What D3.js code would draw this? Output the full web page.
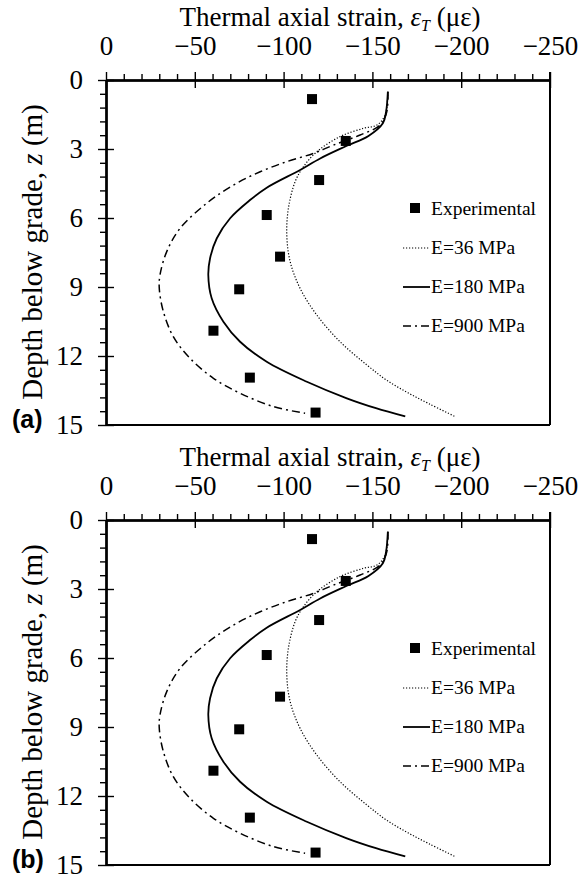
<!DOCTYPE html>
<html>
<head>
<meta charset="utf-8">
<script src="https://cdn.jsdelivr.net/npm/d3@7"></script>
<style>
  body { margin: 0; background: #fff; }
</style>
</head>
<body>
<div id="chart"></div>
<script>
var width = 583,
    height = 876;

// experimental points: [strain (µε), depth (m)]
var expStrain = [-116, -135, -120, -90.5, -98, -75, -60.5, -81, -118];
var expDepth  = [0.83, 2.65, 4.35, 5.87, 7.68, 9.1, 10.9, 12.94, 14.46];

// E = 36 MPa
var e36Strain = [-158.7, -157.2, -152.5, -145, -131.8, -118.7, -111.2, -106.5, -102.7, -101.8, -103.7, -109.3, -118.7, -131.8, -146.9, -158, -170, -182, -196.5];
var e36Depth  = [0.51, 1.52, 1.96, 2.1, 2.46, 3.12, 3.77, 4.42, 5.58, 6.74, 7.9, 9.06, 10.22, 11.38, 12.39, 13.05, 13.6, 14.08, 14.63];

// E = 180 MPa
var e180Strain = [-158.7, -157.7, -155.9, -147.8, -135.6, -120.6, -109.3, -90.5, -81.1, -69.9, -62.4, -58.6, -57.6, -59.5, -66.1, -75.5, -90.5, -113.1, -135.6, -152, -168.5];
var e180Depth  = [0.51, 1.38, 1.88, 2.43, 2.86, 3.41, 3.91, 4.68, 5.22, 6.01, 6.88, 7.75, 8.48, 9.49, 10.51, 11.38, 12.25, 13.12, 13.84, 14.27, 14.63];

// E = 900 MPa
var e900Strain = [-158.7, -158.1, -154.4, -143.1, -128.1, -116.8, -101.8, -86.8, -71.7, -56.7, -41.7, -34.2, -30.4, -30.0, -32.3, -37.9, -47.3, -60.5, -75.5, -94.3, -112.1];
var e900Depth  = [0.51, 1.38, 1.96, 2.39, 2.83, 3.19, 3.55, 3.99, 4.57, 5.36, 6.45, 7.46, 8.48, 9.06, 10.07, 11.16, 12.1, 12.97, 13.62, 14.2, 14.49];

var xTicks = [0, -50, -100, -150, -200, -250];
var yTicks = [0, 3, 6, 9, 12, 15];
var legendLabels = ["Experimental", "E=36 MPa", "E=180 MPa", "E=900 MPa"];
var panelLabels = ["(a)", "(b)"];

var serif = "'Liberation Serif', 'Times New Roman', serif";

var zip = function(a, b){
  return a.map(function(d, i){ return [d, b[i]]; });
};

var series = [
  {data: zip(e36Strain, e36Depth), dash: "1.2,1.8", w: 1.2},
  {data: zip(e180Strain, e180Depth), dash: null, w: 1.8},
  {data: zip(e900Strain, e900Depth), dash: "8,4,2,4", w: 1.5}
];

var svg = d3.select("#chart").append("svg")
    .attr("width", width)
    .attr("height", height);

var x = d3.scaleLinear().domain([0, -250]).range([106, 550]);

var minorX = d3.range(0, -251, -10).filter(function(d){ return d % 50 != 0; });
var minorY = d3.range(0, 15.01, 0.6).filter(function(d){ return Math.abs(d / 3 - Math.round(d / 3)) > 0.01; });

var drawPanel = function(top, label){
  var y = d3.scaleLinear().domain([0, 15]).range([top, top + 345]);
  var g = svg.append("g");

  // frame right and bottom
  g.append("line").attr("x1", 550).attr("x2", 550).attr("y1", top - 8).attr("y2", top + 345)
      .attr("stroke", "#000").attr("stroke-width", 2);
  g.append("line").attr("x1", 106).attr("x2", 550).attr("y1", top + 345).attr("y2", top + 345)
      .attr("stroke", "#000").attr("stroke-width", 2);

  // top x axis
  g.append("g").attr("transform", "translate(0," + top + ")")
      .call(d3.axisTop(x).tickValues(xTicks).tickSizeInner(8).tickSizeOuter(0).tickPadding(17));
  g.append("g").attr("transform", "translate(0," + top + ")")
      .call(d3.axisTop(x).tickValues(xTicks).tickSizeInner(-8).tickSizeOuter(0).tickFormat(""));
  g.append("g").attr("transform", "translate(0," + top + ")")
      .call(d3.axisTop(x).tickValues(minorX).tickSizeInner(6).tickSizeOuter(0).tickFormat(""));

  // left y axis
  g.append("g").attr("class", "yax").attr("transform", "translate(106,0)")
      .call(d3.axisLeft(y).tickValues(yTicks).tickSizeInner(8).tickSizeOuter(0).tickPadding(15));
  g.append("g").attr("transform", "translate(106,0)")
      .call(d3.axisLeft(y).tickValues(yTicks).tickSizeInner(-8).tickSizeOuter(0).tickFormat(""));
  g.append("g").attr("transform", "translate(106,0)")
      .call(d3.axisLeft(y).tickValues(minorY).tickSizeInner(6).tickSizeOuter(0).tickFormat(""));

  g.selectAll(".domain").attr("stroke", "#000").attr("stroke-width", 2);
  g.selectAll(".tick line").attr("stroke", "#000").attr("stroke-width", 1.4);
  g.selectAll(".tick text").style("font-family", serif).style("font-size", "27px").attr("fill", "#000");
  g.selectAll(".yax .tick text").attr("dy", "0.3em");

  // x title
  var t = g.append("text").attr("x", 330).attr("y", top - 54)
      .attr("text-anchor", "middle").style("font-family", serif).style("font-size", "27px");
  t.append("tspan").text("Thermal axial strain, ");
  t.append("tspan").attr("font-style", "italic").text("ε");
  t.append("tspan").attr("font-style", "italic").style("font-size", "16px").attr("dy", 5).text("T");
  t.append("tspan").attr("dy", -5).text(" (με)");

  // y title
  var yt = g.append("text")
      .attr("transform", "translate(42," + (top + 172) + ") rotate(-90)")
      .attr("text-anchor", "middle").style("font-family", serif).style("font-size", "29px");
  yt.append("tspan").text("Depth below grade, ");
  yt.append("tspan").attr("font-style", "italic").text("z");
  yt.append("tspan").text(" (m)");

  // panel label
  g.append("text").attr("x", 12).attr("y", top + 348)
      .style("font-family", "'Liberation Sans', Arial, sans-serif").style("font-weight", "bold")
      .style("font-size", "25px").text(label);

  // curves
  var line = d3.line()
      .x(function(d){ return x(d[0]); })
      .y(function(d){ return y(d[1]); })
      .curve(d3.curveCatmullRom.alpha(0.5));

  g.selectAll(".curve").data(series).enter().append("path")
      .attr("class", "curve")
      .attr("d", function(d){ return line(d.data); })
      .attr("fill", "none")
      .attr("stroke", "#000")
      .attr("stroke-width", function(d){ return d.w; })
      .attr("stroke-dasharray", function(d){ return d.dash; });

  // experimental markers
  g.selectAll(".exp").data(zip(expStrain, expDepth)).enter().append("rect")
      .attr("class", "exp")
      .attr("x", function(d){ return x(d[0]) - 5; })
      .attr("y", function(d){ return y(d[1]) - 5; })
      .attr("width", 10).attr("height", 10)
      .attr("fill", "#000");

  // legend
  var lg = g.append("g").attr("transform", "translate(0," + (top - 80) + ")");
  lg.append("rect").attr("x", 410).attr("y", 203).attr("width", 10).attr("height", 10).attr("fill", "#000");
  var rowY = [248, 287, 326];
  series.forEach(function(s, i){
    lg.append("line").attr("x1", 403).attr("x2", 430).attr("y1", rowY[i]).attr("y2", rowY[i])
        .attr("stroke", "#000").attr("stroke-width", s.w).attr("stroke-dasharray", s.dash);
  });
  lg.selectAll(".lt").data(legendLabels).enter().append("text")
      .attr("x", 431)
      .attr("y", function(d, i){ return [215, 254, 293, 332][i]; })
      .style("font-family", serif).style("font-size", "19.5px")
      .text(function(d){ return d; });
};

drawPanel(80, panelLabels[0]);
drawPanel(520, panelLabels[1]);
</script>
</body>
</html>
